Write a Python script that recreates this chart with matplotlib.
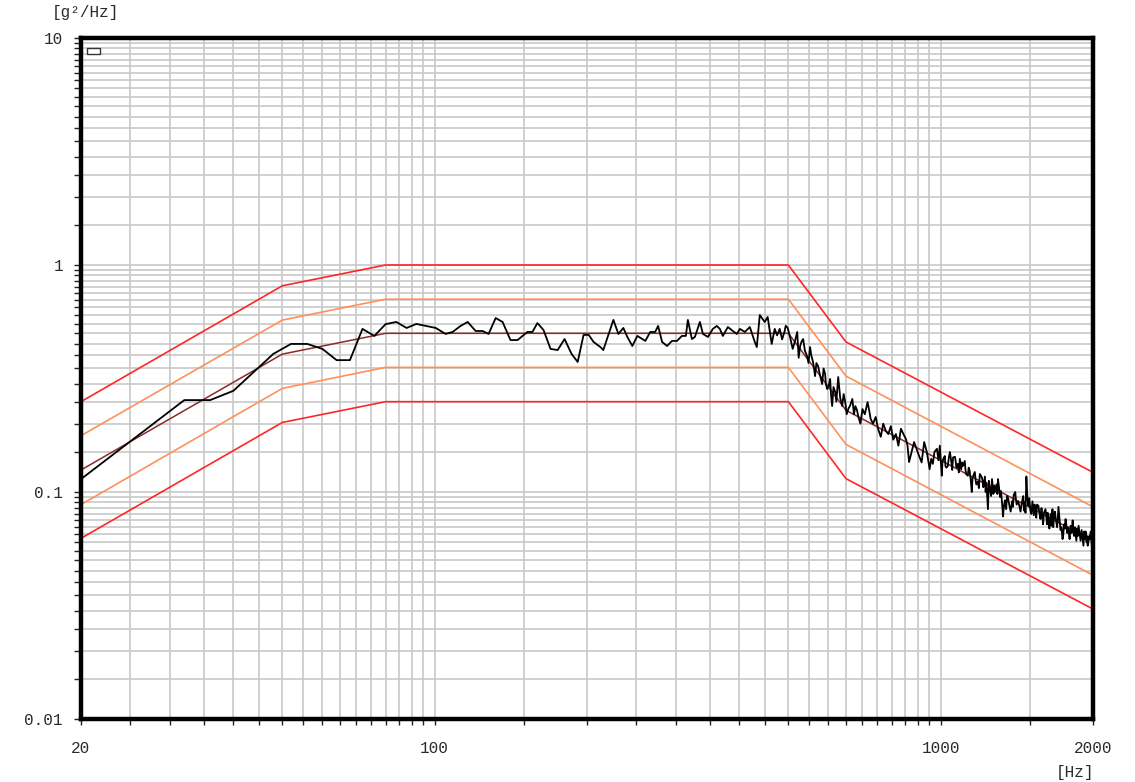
import matplotlib

matplotlib.use("Agg")
import matplotlib.pyplot as plt
import numpy as np
from matplotlib.patches import Rectangle
from matplotlib.ticker import FixedLocator, NullFormatter

# reference profile and tolerance lines (breakpoints, Hz / g^2/Hz)
ref_freq = [20, 50, 80, 500, 650, 2000]
ref_psd = [0.125, 0.405, 0.5, 0.5, 0.229, 0.061]
abort_hi = [0.25, 0.81, 1.0, 1.0, 0.458, 0.122]
alarm_hi = [0.177, 0.572, 0.707, 0.707, 0.324, 0.086]
alarm_lo = [0.088, 0.286, 0.354, 0.354, 0.162, 0.043]
abort_lo = [0.0625, 0.2025, 0.25, 0.25, 0.1145, 0.0305]

meas_freq = [
    20, 32, 36, 40, 48, 52, 56, 60, 64, 68, 72, 76, 80, 84, 88, 92,
    100.5, 105.1, 108.5, 112.5, 116.2, 120.5, 124.4, 127.8, 132, 136.2,
    141.2, 145.8, 152.5, 156, 159.6, 164.1, 169.4, 175, 180.6, 186.4,
    191.7, 196.9, 201.6, 206.1, 212.6, 215.4, 225.5, 230.7, 236, 240.3,
    245.8, 251.5, 257.3, 260.8, 266.7, 272.7, 276.4, 281.5, 287.9, 294.5,
    301.2, 308, 313.6, 316.5, 322.3, 326.8, 334.3, 339, 346.8, 354.6,
    361.1, 366.1, 371.1, 379.7, 388.4, 395.5, 401, 410.2, 419.6, 429.2,
    433.1, 439, 449, 455.1, 463.5, 469.9, 480.7, 491.7, 498.5, 510,
    520.6, 527.6, 534.8, 544.4, 551.9, 559.4, 564.6, 572.3, 583, 591,
    596.5, 604.7, 610.3, 618.7, 627.3, 638.9, 647.7, 656.7, 669, 678.3,
    687.8, 700.5, 717, 727, 744, 761.4, 779, 797, 815.6, 834.5,
    853.9, 866, 886, 906.6, 927.6,
    951, 958, 965, 972, 983, 990, 996, 1005, 1012, 1019,
    1026, 1033, 1043, 1050, 1058, 1067, 1074, 1081, 1091, 1098,
    1106, 1116, 1123, 1131, 1141, 1147, 1152, 1160, 1168, 1176,
    1184, 1195, 1206, 1214, 1223, 1231, 1240, 1250, 1263, 1271,
    1280, 1289, 1298, 1310, 1322, 1328, 1340, 1353, 1366, 1384,
    1394, 1404, 1413, 1423, 1438, 1456, 1466, 1477, 1484, 1490,
    1504, 1518, 1528, 1539, 1550, 1560, 1575, 1589, 1600, 1611,
    1622, 1633, 1648, 1663, 1675, 1686, 1698, 1709, 1725, 1741,
    1753, 1765, 1778, 1790, 1806, 1823, 1835, 1848, 1860, 1873,
    1890, 1908, 1921, 1934, 1943, 1952, 1966, 1979, 1988, 2000,
    # in-between samples of the noisy roll-off
    475, 486, 494, 504, 515, 524, 531, 539, 548, 555,
    562, 568, 577, 587, 593, 600, 607, 614, 622, 633,
    643, 652, 662, 674, 683, 694, 708, 722, 735, 752,
    770, 788, 806, 825, 844, 860, 876, 896, 917, 939,
    1008, 1022, 1038, 1054, 1070, 1086, 1102, 1119, 1136, 1156,
    1172, 1190, 1210, 1227, 1245, 1258, 1275, 1294, 1304, 1316,
    1334, 1347, 1359, 1375, 1389, 1408, 1430, 1447, 1461, 1471,
    1496, 1511, 1533, 1545, 1567, 1582, 1594, 1617, 1627, 1640,
    1656, 1669, 1681, 1692, 1703, 1717, 1733, 1747, 1759, 1771,
    1784, 1798, 1814, 1829, 1841, 1854, 1866, 1881, 1899, 1915,
    1927, 1938, 1947, 1959, 1972, 1984, 1994,
]
meas_psd = [
    0.114, 0.254, 0.254, 0.279, 0.406, 0.449, 0.449, 0.427, 0.381, 0.381,
    0.523, 0.487, 0.549, 0.561, 0.528, 0.55,
    0.528, 0.497, 0.507, 0.539, 0.561, 0.512, 0.512, 0.497, 0.584, 0.561,
    0.467, 0.467, 0.507, 0.507, 0.555, 0.517, 0.427, 0.422, 0.472, 0.406,
    0.374, 0.492, 0.492, 0.458, 0.435, 0.422, 0.573, 0.497, 0.528, 0.482,
    0.440, 0.487, 0.472, 0.463, 0.507, 0.507, 0.539, 0.458, 0.440, 0.463,
    0.463, 0.487, 0.487, 0.573, 0.472, 0.482, 0.561, 0.497, 0.482, 0.523,
    0.539, 0.523, 0.487, 0.533, 0.512, 0.497, 0.523, 0.507, 0.533, 0.458,
    0.435, 0.602, 0.561, 0.590, 0.449, 0.523, 0.523, 0.512, 0.528, 0.427,
    0.507, 0.440, 0.472, 0.397, 0.435, 0.374, 0.324, 0.359, 0.299, 0.331,
    0.284, 0.315, 0.239, 0.276, 0.321, 0.239, 0.249, 0.232, 0.257, 0.239,
    0.214, 0.232, 0.249, 0.210, 0.214, 0.175, 0.186, 0.195, 0.180, 0.190,
    0.171, 0.1355, 0.166, 0.144, 0.166,
    0.126, 0.140, 0.133, 0.150, 0.155, 0.138, 0.160, 0.118, 0.140, 0.144,
    0.128, 0.130, 0.150, 0.135, 0.142, 0.143, 0.128, 0.133, 0.140, 0.126,
    0.130, 0.137, 0.120, 0.118, 0.124, 0.112, 0.100, 0.118, 0.1225, 0.108,
    0.111, 0.120, 0.116, 0.105, 0.117, 0.110, 0.084, 0.104, 0.114, 0.098,
    0.100, 0.108, 0.114, 0.095, 0.090, 0.078, 0.092, 0.096, 0.088, 0.091,
    0.097, 0.100, 0.088, 0.091, 0.082, 0.096, 0.090, 0.117, 0.094, 0.087,
    0.083, 0.091, 0.079, 0.083, 0.088, 0.087, 0.076, 0.078, 0.081, 0.084,
    0.072, 0.074, 0.080, 0.084, 0.077, 0.078, 0.070, 0.086, 0.068, 0.062,
    0.072, 0.076, 0.066, 0.067, 0.071, 0.075, 0.064, 0.065, 0.069, 0.071,
    0.061, 0.062, 0.067, 0.067, 0.060, 0.058, 0.064, 0.067, 0.059, 0.063,
    0.490, 0.470, 0.540, 0.480, 0.460, 0.390, 0.460, 0.420, 0.370, 0.400,
    0.350, 0.370, 0.330, 0.350, 0.300, 0.290, 0.270, 0.290, 0.250, 0.260,
    0.270, 0.220, 0.240, 0.220, 0.230, 0.200, 0.220, 0.230, 0.200, 0.190,
    0.200, 0.180, 0.170, 0.160, 0.180, 0.160, 0.150, 0.155, 0.135, 0.150,
    0.135, 0.130, 0.142, 0.125, 0.138, 0.122, 0.135, 0.126, 0.128, 0.115,
    0.113, 0.104, 0.112, 0.100, 0.112, 0.096, 0.107, 0.098, 0.105, 0.101,
    0.087, 0.084, 0.094, 0.082, 0.086, 0.093, 0.087, 0.090, 0.083, 0.081,
    0.094, 0.080, 0.088, 0.077, 0.081, 0.085, 0.072, 0.078, 0.081, 0.069,
    0.071, 0.070, 0.082, 0.074, 0.074, 0.076, 0.070, 0.065, 0.069, 0.072,
    0.070, 0.062, 0.066, 0.068, 0.070, 0.061, 0.064, 0.066, 0.068, 0.058,
    0.062, 0.063, 0.064, 0.060, 0.062, 0.066, 0.056,
]

x_ticks = [20, 100, 1000, 2000]
x_labels = ["20", "100", "1000", "2000"]
y_ticks = [0.01, 0.1, 1, 10]
y_labels = ["0.01", "0.1", "1", "10"]

RED = "#ff2626"
ORANGE = "#ff9059"
BROWN = "#8c2a2a"
TEXT = "#2a2a2a"
MONO = ["Liberation Mono", "DejaVu Sans Mono"]

# samples were read in two passes, put them back in frequency order
order = np.argsort(meas_freq)
trace_f = np.asarray(meas_freq)[order]
trace_v = np.asarray(meas_psd)[order]

fig = plt.figure(figsize=(11.35, 7.82), dpi=100)
ax = fig.add_axes([81 / 1135, 1 - 719 / 782, 1012 / 1135, 681 / 782])
ax.set_xscale("log")
ax.set_yscale("log")
ax.set_xlim(20, 2000)
ax.set_ylim(0.01, 10)

# dense grid: half steps per decade on y, 5/50/500 Hz steps on x
x_grid = np.concatenate([np.arange(25, 100, 5), np.arange(150, 1000, 50), [1500]])
y_grid = np.concatenate([d * np.arange(1.5, 10, 0.5) for d in (0.01, 0.1, 1)])
ax.xaxis.set_major_locator(FixedLocator(x_ticks))
ax.xaxis.set_minor_locator(FixedLocator(x_grid))
ax.yaxis.set_major_locator(FixedLocator(y_ticks))
ax.yaxis.set_minor_locator(FixedLocator(y_grid))
ax.xaxis.set_minor_formatter(NullFormatter())
ax.yaxis.set_minor_formatter(NullFormatter())
ax.set_xticklabels(x_labels, family=MONO, fontsize=11.5, color=TEXT)
ax.set_yticklabels(y_labels, family=MONO, fontsize=11.5, color=TEXT)
ax.grid(which="both", color="#c8c8c8", linewidth=1.2)
ax.set_axisbelow(True)

ax.tick_params(axis="x", which="both", direction="out", length=4, width=1,
               pad=12, color="#222222")
ax.tick_params(axis="y", which="both", direction="out", length=5, width=1,
               pad=8, color="#222222")

for side in ax.spines.values():
    side.set_linewidth(3.2)
    side.set_color("black")
    side.set_zorder(10)

ax.plot(ref_freq, abort_hi, color=RED, lw=1.2)
ax.plot(ref_freq, abort_lo, color=RED, lw=1.2)
ax.plot(ref_freq, alarm_hi, color=ORANGE, lw=1.2)
ax.plot(ref_freq, alarm_lo, color=ORANGE, lw=1.2)
ax.vlines([ref_freq[0], ref_freq[-1]], 0.01, [abort_hi[0], abort_hi[-1]],
          color=RED, lw=1.5)
ax.plot(ref_freq, ref_psd, color=BROWN, lw=1.1)
ax.plot(trace_f, trace_v, color="black", lw=1.3)

# empty legend box
ax.add_patch(Rectangle((0.006, 0.9765), 0.0128, 0.0088, transform=ax.transAxes,
                       facecolor="white", edgecolor="#333333", lw=1, zorder=5))

fig.text(52 / 1135, 1 - 13 / 782, "[g\u00b2/Hz]", family=MONO, fontsize=11.5,
         color=TEXT, ha="left", va="center")
fig.text(1075 / 1135, 1 - 772 / 782, "[Hz]", family=MONO, fontsize=11.5,
         color=TEXT, ha="center", va="center")

fig.savefig("out.png", dpi=100)
